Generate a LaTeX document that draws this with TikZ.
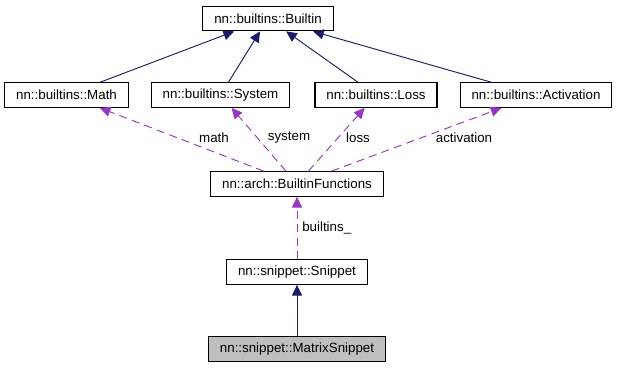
\documentclass[tikz,border=0pt]{standalone}
\usepackage{fontspec}
\setmainfont{Liberation Sans}
\usetikzlibrary{arrows.meta,positioning}
\definecolor{edgeblue}{HTML}{191970}
\definecolor{edgepurple}{HTML}{9A32CD}
\definecolor{nodegray}{HTML}{BFBFBF}
\tikzset{
        classnode/.style={draw=black, fill=white, line width=0.8pt, inner xsep=8.5pt, inner ysep=0pt,
                minimum height=18.5pt, font=\fontsize{10}{12}\selectfont},
        % Class being documented
        class_main/.style={classnode, fill=nodegray},
        % Inheritance edges
        edge_inherit/.style={edgeblue, line width=0.7pt, -{Triangle[length=8pt,width=7.5pt]}},
        % Usage edges
        edge_use/.style={edgepurple, line width=0.7pt, dash pattern=on 6pt off 4pt,
                -{Triangle[length=8pt,width=7.5pt]}},
        edge_label/.style={inner sep=0pt, font=\fontsize{10}{12}\selectfont}
}
\begin{document}
\begin{tikzpicture}[x=0.75pt, y=-0.75pt]
        \useasboundingbox (0,0) rectangle (617,368);
        \node[classnode] (builtin) at (268,18.5) {nn::builtins::Builtin};
        \node[classnode] (math) at (66.5,95) {nn::builtins::Math};
        \node[classnode] (system) at (220.5,95) {nn::builtins::System};
        \node[classnode] (loss) at (376,95) {nn::builtins::Loss};
        \node[classnode] (activation) at (536,95) {nn::builtins::Activation};
        \node[classnode] (functions) at (297,184) {nn::arch::BuiltinFunctions};
        \node[classnode] (snippet) at (297,272) {nn::snippet::Snippet};
        \node[class_main] (matrix) at (297,349) {nn::snippet::MatrixSnippet};

        \draw[edge_inherit] (math) -- (builtin);
        \draw[edge_inherit] (system) -- (builtin);
        \draw[edge_inherit] (loss) -- (builtin);
        \draw[edge_inherit] (activation) -- (builtin);

        \draw[edge_use] (functions) -- (math);
        \draw[edge_use] (functions) -- (system);
        \draw[edge_use] (functions) -- (loss);
        \draw[edge_use] (functions) -- (activation);
        \node[edge_label] (lmath) at (214,138) {math};
        \node[edge_label] (lsystem) at (289,138) {system};
        \node[edge_label] (lloss) at (358,138) {loss};
        \node[edge_label] (lactivation) at (464,138) {activation};

        \draw[edge_use] (snippet) -- (functions);
        \node[edge_label, anchor=west] (lbuiltins) at (302,228) {builtins\_};

        \draw[edge_inherit] (matrix) -- (snippet);
\end{tikzpicture}
\end{document}
